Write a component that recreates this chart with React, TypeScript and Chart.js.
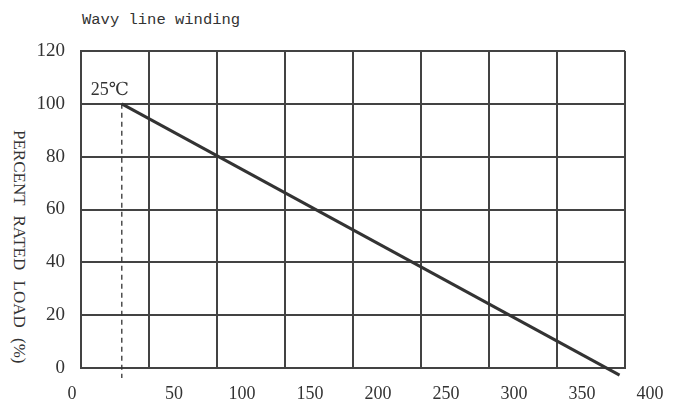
import { useEffect, useRef } from "react";
import { Chart, registerables } from "chart.js";

Chart.register(...registerables);

const chartTitle = "Wavy line winding";
const yAxisTitle = "PERCENT RATED LOAD (%)";
const refLabel = "25℃";

const xMin = 0;
const xMax = 400;
const xStep = 50;
const yMin = 0;
const yMax = 120;
const yStep = 20;
const xFirstTick = [0];

// derating curve (temperature °C, percent rated load)
const curveX = [30, 396];
const curveY = [100, -2.7];
// dashed reference line at the 25℃ point
const refX = [30, 30];
const refY = [100, -3.8];

const ink = "#333333";
const gridColor = "#434343";
const serif = "'Liberation Serif', 'DejaVu Serif', 'Noto Sans CJK SC', serif";

const refLabelPlugin = {
  id: "refLabel",
  afterDatasetsDraw(chart: any) {
    const { ctx, scales } = chart;
    const px = scales.x.getPixelForValue(refX[0]);
    const py = scales.y.getPixelForValue(refY[0]);
    ctx.save();
    ctx.font = `18px ${serif}`;
    ctx.fillStyle = ink;
    ctx.textAlign = "right";
    ctx.textBaseline = "alphabetic";
    ctx.fillText(refLabel, px + 7, py - 9);
    ctx.restore();
  },
};

export default function App() {
  const canvasRef = useRef<HTMLCanvasElement | null>(null);

  useEffect(() => {
    if (!canvasRef.current) return;
    const chart = new Chart(canvasRef.current, {
      type: "scatter",
      data: {
        datasets: [
          {
            data: curveX.map((x, i) => ({ x, y: curveY[i] })),
            showLine: true,
            borderColor: ink,
            borderWidth: 3,
            pointRadius: 0,
            clip: false as any,
          },
          {
            data: refX.map((x, i) => ({ x, y: refY[i] })),
            showLine: true,
            borderColor: ink,
            borderWidth: 1.3,
            borderDash: [5, 4],
            pointRadius: 0,
            clip: false as any,
          },
        ],
      },
      options: {
        animation: false,
        responsive: true,
        maintainAspectRatio: false,
        layout: { padding: { top: 51, right: 53, bottom: 0, left: 0 } },
        plugins: {
          legend: { display: false },
          tooltip: { enabled: false },
          title: { display: false },
        },
        scales: {
          x: {
            type: "linear",
            position: "bottom",
            min: xMin,
            max: xMax,
            grid: { color: gridColor, lineWidth: 2, drawTicks: false },
            border: { color: gridColor, width: 2 },
            ticks: {
              stepSize: xStep,
              autoSkip: false,
              maxRotation: 0,
              labelOffset: 25,
              padding: 15,
              color: ink,
              font: { family: serif, size: 18 },
              callback: (v: any) => (v === xFirstTick[0] ? "" : String(v)),
            },
            afterFit: (s: any) => {
              s.height = 36;
            },
          },
          x0: {
            type: "linear",
            position: { y: yMin } as any,
            min: xMin,
            max: xMax,
            grid: { display: false, drawTicks: false },
            border: { display: false },
            afterBuildTicks: (s: any) => {
              s.ticks = xFirstTick.map((v) => ({ value: v }));
            },
            ticks: {
              autoSkip: false,
              maxRotation: 0,
              labelOffset: -9,
              padding: 15,
              color: ink,
              font: { family: serif, size: 18 },
              callback: (v: any) => String(v),
            },
          },
          y: {
            type: "linear",
            min: yMin,
            max: yMax,
            grid: { color: gridColor, lineWidth: 2, drawTicks: false },
            border: { color: gridColor, width: 2 },
            ticks: {
              stepSize: yStep,
              padding: 16,
              color: ink,
              font: { family: serif, size: 19 },
            },
            afterFit: (s: any) => {
              s.width = 81;
            },
          },
        },
      },
      plugins: [refLabelPlugin],
    });
    return () => chart.destroy();
  }, []);

  return (
    <div
      style={{
        position: "fixed",
        left: 0,
        top: 0,
        width: 678,
        height: 404,
        background: "#ffffff",
        overflow: "hidden",
      }}
    >
      <div
        style={{
          position: "absolute",
          left: 82,
          top: 11,
          fontFamily: "'Liberation Mono', 'DejaVu Sans Mono', monospace",
          fontSize: 15.5,
          color: ink,
          whiteSpace: "nowrap",
        }}
      >
        {chartTitle}
      </div>
      <div
        style={{
          position: "absolute",
          left: 9,
          top: 130,
          writingMode: "vertical-rl",
          fontFamily: serif,
          fontSize: 17,
          color: ink,
          whiteSpace: "nowrap",
          wordSpacing: 6,
        }}
      >
        {yAxisTitle}
      </div>
      <div style={{ position: "absolute", left: 0, top: 0, width: 678, height: 404 }}>
        <canvas ref={canvasRef} />
      </div>
    </div>
  );
}
